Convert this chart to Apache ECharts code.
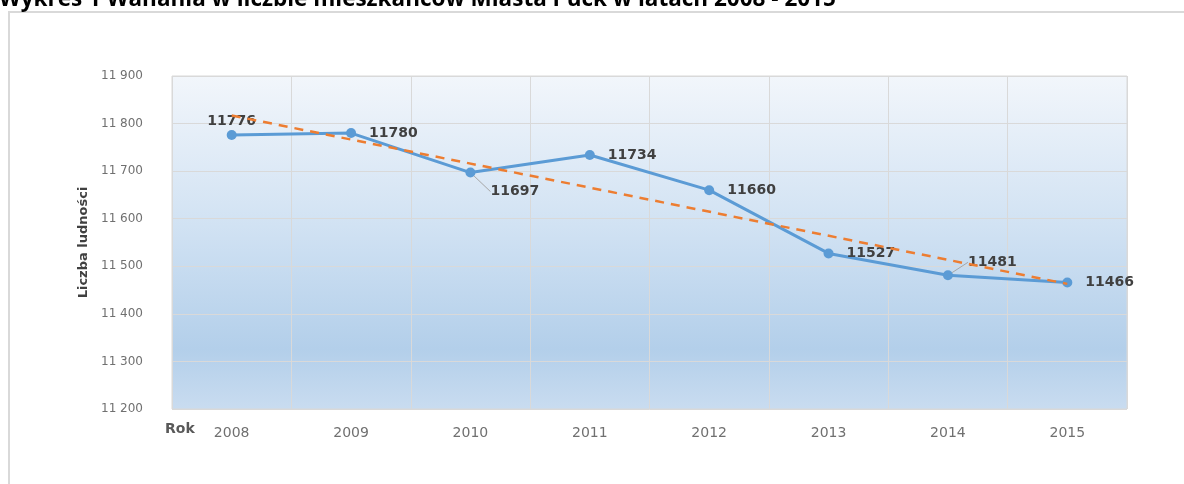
<!DOCTYPE html>
<html>
<head>
<meta charset="utf-8">
<script src="https://cdn.jsdelivr.net/npm/echarts@6/dist/echarts.min.js"></script>
<style>
  html, body { margin: 0; padding: 0; background: #fff; }
  #chart { width: 1184px; height: 484px; }
</style>
</head>
<body>
<div id="chart"></div>
<script>
// dane z wykresu
const years = ['2008', '2009', '2010', '2011', '2012', '2013', '2014', '2015'];
const population = [11776, 11780, 11697, 11734, 11660, 11527, 11481, 11466];
const trendStartEnd = [11817, 11463]; // linia trendu (2008, 2015)
const yMin = 11200, yMax = 11900, yStep = 100;

const titleText = 'Wykres 1 Wahania w liczbie mieszkańców Miasta Puck w latach 2008 - 2015';

// położenie etykiet danych (jak w oryginale)
const labelPlace = {
  0: { position: 'top', distance: 2, offset: [6, 2] }
};
const labelMove = { 2: { dx: 2, dy: 19 }, 6: { dx: 2, dy: -13 } };

const chart = echarts.init(document.getElementById('chart'));

const points = population.map((v, i) => {
  const item = { value: v };
  if (labelPlace[i]) item.label = labelPlace[i];
  if (labelMove[i]) item.labelLine = { show: true };
  return item;
});

const option = {
  animation: false,
  textStyle: { fontFamily: 'DejaVu Sans' },
  graphic: [
    {
      type: 'rect',
      shape: { x: 9, y: 12, width: 1400, height: 700 },
      style: { fill: 'none', stroke: '#d9d9d9', lineWidth: 2 },
      silent: true
    },
    {
      type: 'text',
      left: -1,
      top: -12,
      style: {
        text: titleText,
        font: 'bold 22.5px "Open Sans"',
        fill: '#000'
      }
    },
    {
      type: 'text',
      left: 165,
      top: 422,
      style: {
        text: 'Rok',
        font: 'bold 14px "DejaVu Sans"',
        fill: '#595959'
      }
    }
  ],
  grid: {
    left: 172,
    right: 57,
    top: 76,
    bottom: 75,
    show: true,
    borderColor: '#d9d9d9',
    borderWidth: 1,
    backgroundColor: new echarts.graphic.LinearGradient(0, 0, 0, 1, [
      { offset: 0, color: '#f2f6fb' },
      { offset: 0.45, color: '#d1e2f3' },
      { offset: 0.82, color: '#b3cfea' },
      { offset: 1, color: '#c9dcf0' }
    ])
  },
  xAxis: {
    type: 'category',
    data: years,
    boundaryGap: true,
    axisLine: { show: false },
    axisTick: { show: false },
    splitLine: { show: true, lineStyle: { color: '#d9d9d9', width: 1 } },
    axisLabel: { color: '#707070', fontSize: 14, margin: 17 }
  },
  yAxis: {
    type: 'value',
    min: yMin,
    max: yMax,
    interval: yStep,
    name: 'Liczba ludności',
    nameLocation: 'middle',
    nameGap: 71,
    nameTextStyle: { fontWeight: 'bold', fontSize: 13, color: '#404040' },
    axisLine: { show: false },
    axisTick: { show: false },
    splitLine: { lineStyle: { color: '#d9d9d9', width: 1 } },
    axisLabel: {
      color: '#707070',
      fontSize: 12,
      margin: 29,
      formatter: v => String(v).replace(/(\d)(?=(\d{3})+$)/g, '$1 ')
    }
  },
  series: [
    {
      name: 'Liczba ludności',
      type: 'line',
      data: points,
      symbol: 'circle',
      symbolSize: 10,
      itemStyle: { color: '#5b9bd5' },
      lineStyle: { color: '#5b9bd5', width: 3 },
      z: 3,
      label: {
        show: true,
        position: 'right',
        distance: 13,
        fontSize: 14,
        fontWeight: 'bold',
        color: '#404040'
      },
      labelLine: { show: false, lineStyle: { color: '#a6a6a6', width: 1 } },
      labelLayout: p => labelMove[p.dataIndex] || {}
    },
    {
      name: 'Trend',
      type: 'line',
      data: [[years[0], trendStartEnd[0]], [years[years.length - 1], trendStartEnd[1]]],
      symbol: 'none',
      lineStyle: { color: '#ed7d31', width: 2.5, type: [9, 7] },
      z: 4,
      silent: true
    }
  ]
};

chart.setOption(option);
</script>
</body>
</html>
